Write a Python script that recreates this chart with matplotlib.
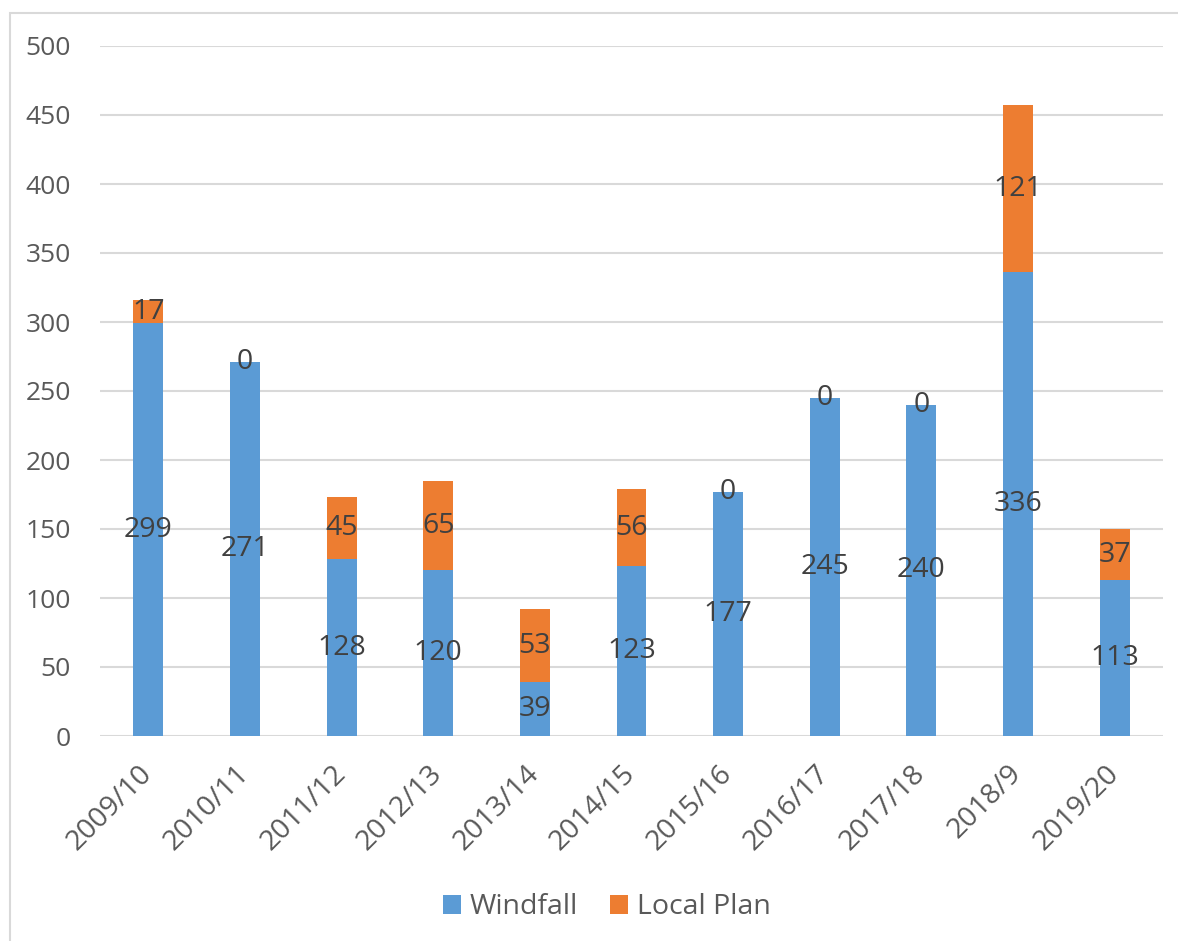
import matplotlib.pyplot as plt
import matplotlib.patches as mpatches
import numpy as np

plt.rcParams['font.family'] = ['Open Sans', 'DejaVu Sans']

years = ['2009/10', '2010/11', '2011/12', '2012/13', '2013/14', '2014/15',
         '2015/16', '2016/17', '2017/18', '2018/9', '2019/20']
windfall = [299, 271, 128, 120, 39, 123, 177, 245, 240, 336, 113]
local_plan = [17, 0, 45, 65, 53, 56, 0, 0, 0, 121, 37]

blue = '#5B9BD5'
orange = '#ED7D31'
grid_c = '#D9D9D9'

fig = plt.figure(figsize=(11.78, 9.41), dpi=100)
ax = fig.add_axes([100 / 1178, 1 - 736 / 941, 1063 / 1178, 690 / 941])

x = np.arange(len(years))
w = 0.31
b1 = ax.bar(x, windfall, w, color=blue, label='Windfall', zorder=3)
b2 = ax.bar(x, local_plan, w, bottom=windfall, color=orange, label='Local Plan', zorder=3)
ax.bar_label(b1, label_type='center', fontsize=20.5, color='#404040')
ax.bar_label(b2, label_type='center', fontsize=20.5, color='#404040')

ax.set_xlim(-0.5, len(years) - 0.5)
ax.set_ylim(0, 500)
ax.set_yticks(range(0, 501, 50))
ax.yaxis.grid(True, color=grid_c, lw=1.5, zorder=0)
for s in ax.spines.values():
    s.set_visible(False)
ax.tick_params(length=0, colors='#595959')
ax.tick_params(axis='y', labelsize=19, pad=21)
ax.tick_params(axis='x', labelsize=20.5, pad=24)
ax.set_xticks(x)
ax.set_xticklabels(years, rotation=45, ha='right', va='center', rotation_mode='anchor')

# outer chart border
fig.patches.append(mpatches.Rectangle((10 / 1178, -0.01), 1.02, 1 - 13 / 941 + 0.01,
                                      transform=fig.transFigure, fill=False,
                                      edgecolor=grid_c, lw=1.5))

fig.legend(handles=[b1, b2], loc='center', bbox_to_anchor=(0.515, 0.036),
           ncol=2, frameon=False, fontsize=20.5, handlelength=0.65, handleheight=0.65,
           handletextpad=0.3, columnspacing=1.1, labelcolor='#595959')

fig.savefig('out.png', dpi=100)
